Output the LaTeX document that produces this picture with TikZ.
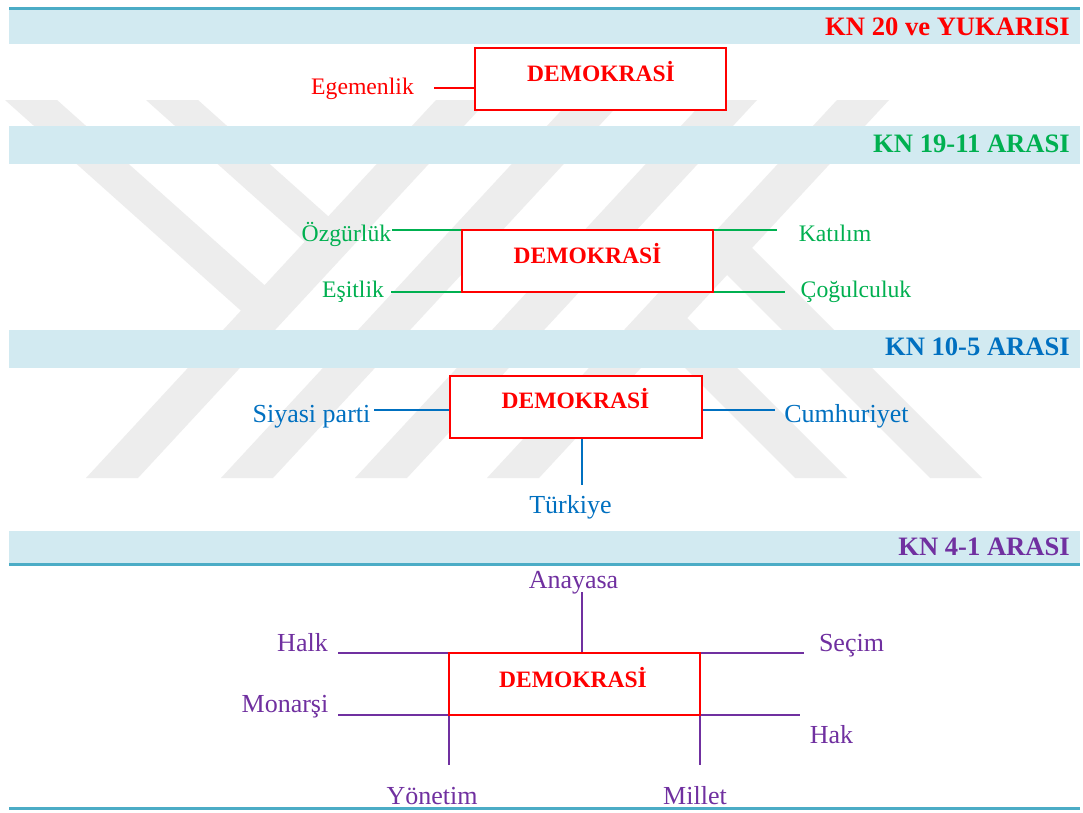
\documentclass[tikz,border=0pt]{standalone}
\usepackage{fontspec}
\setmainfont{Liberation Serif}
\definecolor{bandc}{HTML}{D2EAF1}
\definecolor{tealc}{HTML}{4BACC6}
\definecolor{kred}{HTML}{FF0000}
\definecolor{kgreen}{HTML}{00B050}
\definecolor{kblue}{HTML}{0070C0}
\definecolor{kpurple}{HTML}{7030A0}
\definecolor{wmc}{HTML}{EDEDED}
\begin{document}
\begin{tikzpicture}[x=1pt,y=-1pt,
  header/.style={anchor=base east,inner sep=0pt,font=\fontsize{26.6}{30}\selectfont\bfseries},
  demobox/.style={draw=kred,line width=2pt,fill=white,inner sep=0pt},
  demotext/.style={anchor=base,inner sep=0pt,text=kred,font=\fontsize{23.5}{28}\selectfont\bfseries},
  smalllbl/.style={anchor=base,inner sep=0pt,font=\fontsize{23.7}{28}\selectfont},
  biglbl/.style={anchor=base,inner sep=0pt,font=\fontsize{26}{30}\selectfont},
  conn/.style={line width=2pt}
]
\useasboundingbox (0,0) rectangle (1083,812);
\fill[white] (0,0) rectangle (1083,812);

% watermark
\begin{scope}
\clip (0,100) rectangle (1083,478);
\fill[wmc] (5,100) -- (57,100) -- (278.8,297.9) -- (255.2,323.4) -- cycle;
\fill[wmc] (146,100) -- (198,100) -- (342.5,229) -- (318.9,254.4) -- cycle;
\fill[wmc] (86,478) -- (138,478) -- (488,100) -- (436,100) -- cycle;
\fill[wmc] (221,478) -- (273,478) -- (623,100) -- (571,100) -- cycle;
\fill[wmc] (355,478) -- (407,478) -- (757,100) -- (705,100) -- cycle;
\fill[wmc] (487,478) -- (539,478) -- (889,100) -- (837,100) -- cycle;
\fill[wmc] (795,478) -- (847,478) -- (673.6,304.6) -- (648.6,331.6) -- cycle;
\fill[wmc] (930,478) -- (982,478) -- (738.5,234.5) -- (713.5,261.5) -- cycle;
\end{scope}

% bands
\fill[tealc] (9,7) rectangle (1080,10);
\fill[bandc] (9,10) rectangle (1080,44);
\fill[bandc] (9,126) rectangle (1080,164);
\fill[bandc] (9,330) rectangle (1080,368);
\fill[bandc] (9,531) rectangle (1080,563);
\fill[tealc] (9,563) rectangle (1080,566);
\fill[tealc] (9,807) rectangle (1080,810);

\node[header,text=kred] (h1) at (1070,35) {KN 20 ve YUKARISI};
\node[header,text=kgreen] (h2) at (1070,152) {KN 19-11 ARASI};
\node[header,text=kblue] (h3) at (1070,355) {KN 10-5 ARASI};
\node[header,text=kpurple] (h4) at (1070,555) {KN 4-1 ARASI};

% section 1
\node[demobox,minimum width=251pt,minimum height=62pt] (b1) at (600.5,79) {};
\node[demotext] (t1) at (601,81) {DEMOKRASİ};
\node[smalllbl,text=kred] (egem) at (362.5,94) {Egemenlik};
\coordinate (e1) at (434,88);
\draw[conn,kred] (e1) -- (e1 -| b1.west);

% section 2
\node[demobox,minimum width=251pt,minimum height=62pt] (b2) at (587.5,261) {};
\node[demotext] (t2) at (587.5,263) {DEMOKRASİ};
\node[smalllbl,text=kgreen] (ozg) at (346.5,241.5) {Özgürlük};
\node[smalllbl,text=kgreen] (kat) at (835,241.5) {Katılım};
\node[smalllbl,text=kgreen] (esit) at (353,297.5) {Eşitlik};
\node[smalllbl,text=kgreen] (cog) at (856,297.5) {Çoğulculuk};
\coordinate (g1) at (392,230);
\coordinate (g2) at (391,292);
\coordinate (g3) at (777,230);
\coordinate (g4) at (785,292);
\draw[conn,kgreen] (g1) -- (g1 -| b2.west);
\draw[conn,kgreen] (g2) -- (g2 -| b2.west);
\draw[conn,kgreen] (g3 -| b2.east) -- (g3);
\draw[conn,kgreen] (g4 -| b2.east) -- (g4);

% section 3
\node[demobox,minimum width=252pt,minimum height=62pt] (b3) at (576,407) {};
\node[demotext] (t3) at (575.5,408) {DEMOKRASİ};
\node[biglbl,text=kblue] (siy) at (311.5,422.5) {Siyasi parti};
\node[biglbl,text=kblue] (cum) at (846.5,422.5) {Cumhuriyet};
\node[biglbl,text=kblue] (tur) at (570.5,513) {Türkiye};
\coordinate (s1) at (374,410);
\coordinate (s2) at (775,410);
\coordinate (s3) at (582,485);
\draw[conn,kblue] (s1) -- (s1 -| b3.west);
\draw[conn,kblue] (s2 -| b3.east) -- (s2);
\draw[conn,kblue] (s3 |- b3.south) -- (s3);

% section 4
\node[demobox,minimum width=251pt,minimum height=62pt] (b4) at (574.5,684) {};
\node[demotext] (t4) at (573,687) {DEMOKRASİ};
\node[biglbl,text=kpurple] (ana) at (573.5,588) {Anayasa};
\node[biglbl,text=kpurple] (halk) at (302.5,651) {Halk};
\node[biglbl,text=kpurple] (sec) at (851.5,651) {Seçim};
\node[biglbl,text=kpurple] (mon) at (285,712) {Monarşi};
\node[biglbl,text=kpurple] (hak) at (831.5,743) {Hak};
\node[biglbl,text=kpurple] (yon) at (432,804) {Yönetim};
\node[biglbl,text=kpurple] (mil) at (695,804) {Millet};
\coordinate (p1) at (582,592);
\coordinate (p2) at (338,653);
\coordinate (p3) at (804,653);
\coordinate (p4) at (338,715);
\coordinate (p5) at (800,715);
\coordinate (p6) at (449,765);
\coordinate (p7) at (700,765);
\draw[conn,kpurple] (p1) -- (p1 |- b4.north);
\draw[conn,kpurple] (p2) -- (p2 -| b4.west);
\draw[conn,kpurple] (p3 -| b4.east) -- (p3);
\draw[conn,kpurple] (p4) -- (p4 -| b4.west);
\draw[conn,kpurple] (p5 -| b4.east) -- (p5);
\draw[conn,kpurple] (p6 |- b4.south) -- (p6);
\draw[conn,kpurple] (p7 |- b4.south) -- (p7);
\end{tikzpicture}
\end{document}
